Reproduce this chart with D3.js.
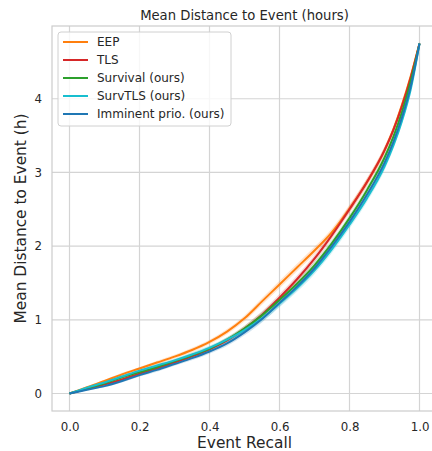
<!DOCTYPE html>
<html>
<head>
<meta charset="utf-8">
<script src="https://cdn.jsdelivr.net/npm/d3@7"></script>
<style>
  body { margin: 0; background: #fff; }
  svg text { font-family: "DejaVu Sans", sans-serif; fill: #262626; }
</style>
</head>
<body>
<div id="chart-container"></div>
<script>
// data
const recall = [0, 0.05, 0.1, 0.15, 0.2, 0.25, 0.3, 0.35, 0.4, 0.45, 0.5, 0.55, 0.6, 0.65, 0.7, 0.75, 0.8, 0.85, 0.9, 0.925, 0.95, 0.975, 1.0];

const eep      = [0, 0.085, 0.17, 0.26, 0.34, 0.42, 0.50, 0.59, 0.70, 0.84, 1.02, 1.25, 1.48, 1.71, 1.94, 2.19, 2.51, 2.87, 3.30, 3.58, 3.92, 4.31, 4.75];
const tls      = [0, 0.06, 0.12, 0.19, 0.27, 0.34, 0.42, 0.505, 0.60, 0.72, 0.88, 1.07, 1.30, 1.55, 1.83, 2.15, 2.50, 2.87, 3.30, 3.57, 3.90, 4.29, 4.75];
const survival = [0, 0.07, 0.14, 0.22, 0.29, 0.36, 0.44, 0.52, 0.61, 0.73, 0.88, 1.06, 1.27, 1.49, 1.74, 2.04, 2.38, 2.76, 3.20, 3.48, 3.82, 4.24, 4.75];
const survTls  = [0, 0.08, 0.15, 0.23, 0.31, 0.38, 0.45, 0.53, 0.62, 0.73, 0.86, 1.02, 1.22, 1.43, 1.67, 1.96, 2.29, 2.65, 3.08, 3.36, 3.70, 4.13, 4.75];
const imminent = [0, 0.05, 0.10, 0.17, 0.25, 0.32, 0.40, 0.48, 0.57, 0.68, 0.83, 1.01, 1.23, 1.45, 1.70, 2.00, 2.33, 2.70, 3.13, 3.41, 3.75, 4.17, 4.75];

// half width of the shaded spread around each line
const spread = [0, 0.01, 0.015, 0.02, 0.02, 0.025, 0.025, 0.03, 0.03, 0.035, 0.04, 0.045, 0.05, 0.05, 0.05, 0.05, 0.05, 0.05, 0.05, 0.045, 0.04, 0.035, 0.02];

const seriesNames = ["EEP", "TLS", "Survival (ours)", "SurvTLS (ours)", "Imminent prio. (ours)"];
const seriesColors = ["#ff7f0e", "#d62728", "#2ca02c", "#17becf", "#1f77b4"];
const seriesValues = [eep, tls, survival, survTls, imminent];

const xTicks = [0, 0.2, 0.4, 0.6, 0.8, 1.0];
const yTicks = [0, 1, 2, 3, 4];

// Set up the SVG container
const svgWidth = 432;
const svgHeight = 451;
const margin = { top: 26, right: -5, bottom: 40, left: 52 };
const width = svgWidth - margin.left - margin.right;
const height = svgHeight - margin.top - margin.bottom;

const svg = d3.select("#chart-container")
    .append("svg")
    .attr("width", svgWidth)
    .attr("height", svgHeight)
    .append("g")
    .attr("transform", `translate(${margin.left},${margin.top})`);

const x = d3.scaleLinear()
    .domain([-0.05, 1.05])
    .range([0, width]);

const y = d3.scaleLinear()
    .domain([-0.2375, 4.9875])
    .range([height, 0]);

// grid
svg.append("g")
    .selectAll("line")
    .data(xTicks)
    .enter()
    .append("line")
    .attr("x1", d => x(d)).attr("x2", d => x(d))
    .attr("y1", 0).attr("y2", height)
    .attr("stroke", "#d4d4d4")
    .attr("stroke-width", 1.2);

svg.append("g")
    .selectAll("line")
    .data(yTicks)
    .enter()
    .append("line")
    .attr("x1", 0).attr("x2", width)
    .attr("y1", d => y(d)).attr("y2", d => y(d))
    .attr("stroke", "#d4d4d4")
    .attr("stroke-width", 1.2);

// frame
svg.append("rect")
    .attr("x", 0).attr("y", 0)
    .attr("width", width).attr("height", height)
    .attr("fill", "none")
    .attr("stroke", "#cccccc")
    .attr("stroke-width", 1.2);

// axes (labels only, no tick marks)
const xAxis = svg.append("g")
    .attr("transform", `translate(0, ${height})`)
    .call(d3.axisBottom(x).tickValues(xTicks).tickFormat(d3.format(".1f")).tickSize(0).tickPadding(11.5));
const yAxis = svg.append("g")
    .call(d3.axisLeft(y).tickValues(yTicks).tickFormat(d3.format("d")).tickSize(0).tickPadding(10));
[xAxis, yAxis].forEach(a => {
    a.select(".domain").remove();
    a.selectAll("text").attr("font-size", 11.8).attr("fill", "#262626")
        .attr("font-family", "DejaVu Sans, sans-serif");
});

// bands then lines
const band = d3.area()
    .x((d, i) => x(recall[i]))
    .y0((d, i) => y(d - spread[i]))
    .y1((d, i) => y(d + spread[i]))
    .curve(d3.curveMonotoneX);

const line = d3.line()
    .x((d, i) => x(recall[i]))
    .y(d => y(d))
    .curve(d3.curveMonotoneX);

seriesValues.forEach((vals, k) => {
    svg.append("path")
        .attr("d", band(vals))
        .attr("fill", seriesColors[k])
        .attr("opacity", 0.2);
});

seriesValues.forEach((vals, k) => {
    svg.append("path")
        .attr("d", line(vals))
        .attr("fill", "none")
        .attr("stroke", seriesColors[k])
        .attr("stroke-width", 2);
});

// legend
const legend = svg.append("g")
    .attr("transform", "translate(6, 6)");

legend.append("rect")
    .attr("width", 173).attr("height", 94)
    .attr("rx", 3)
    .attr("fill", "white").attr("fill-opacity", 0.8)
    .attr("stroke", "#d0d0d0");

seriesNames.forEach((name, k) => {
    const row = legend.append("g").attr("transform", `translate(0, ${10 + k * 18})`);
    row.append("line")
        .attr("x1", 5).attr("x2", 30)
        .attr("stroke", seriesColors[k])
        .attr("stroke-width", 2);
    row.append("text")
        .text(name)
        .attr("x", 39)
        .attr("dy", "0.35em")
        .attr("font-size", 12);
});

// titles
svg.append("text")
    .text("Mean Distance to Event (hours)")
    .attr("x", 192.5)
    .attr("y", -6)
    .attr("text-anchor", "middle")
    .attr("font-size", 13.2);

svg.append("text")
    .text("Event Recall")
    .attr("x", 192.5)
    .attr("y", height + 37)
    .attr("text-anchor", "middle")
    .attr("font-size", 15.4);

svg.append("text")
    .text("Mean Distance to Event (h)")
    .attr("transform", `translate(-26.5, ${height / 2}) rotate(-90)`)
    .attr("text-anchor", "middle")
    .attr("font-size", 15.4);
</script>
</body>
</html>
